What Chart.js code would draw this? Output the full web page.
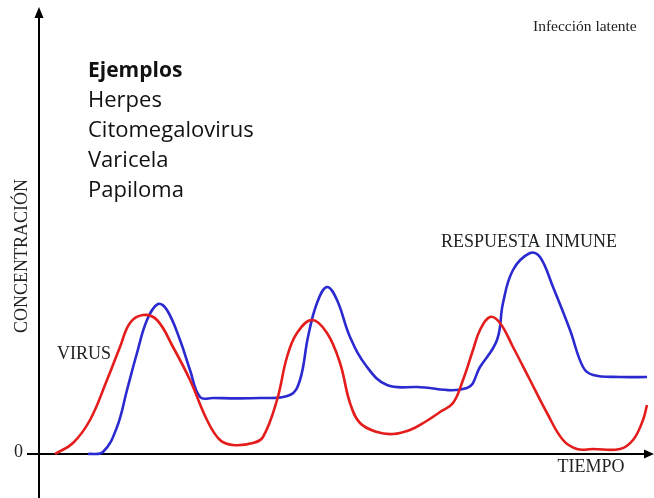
<!DOCTYPE html>
<html>
<head>
<meta charset="utf-8">
<script src="https://cdn.jsdelivr.net/npm/chart.js@4"></script>
<style>
  html, body { margin: 0; padding: 0; background: #ffffff; }
  #wrap { width: 654px; height: 498px; position: relative; }
</style>
</head>
<body>
<div id="wrap"><canvas id="infeccionChart"></canvas></div>
<script>
// tiempo / concentración (unidades arbitrarias)
const virusTime = [16, 34, 51, 68, 81, 91, 104, 118, 134, 151, 168, 181, 194, 214, 224, 238, 248, 258, 273, 288, 301, 311, 321, 338, 354, 371, 386, 401, 414, 424, 434, 441, 451, 461, 474, 491, 508, 524, 538, 554, 581, 594, 604, 608];
const virusConc = [0, 11, 34, 74, 107, 131, 139, 134, 107, 74, 34, 14, 9, 11, 17, 54, 97, 121, 134, 121, 91, 51, 31, 22, 20, 24, 32, 42, 51, 74, 104, 124, 137, 131, 107, 74, 41, 14, 5, 5, 5, 14, 34, 49];

const immuneTime = [49, 64, 78, 88, 98, 108, 119, 128, 141, 151, 161, 174, 221, 251, 261, 269, 278, 288, 298, 311, 328, 348, 378, 428, 441, 458, 464, 474, 491, 501, 514, 531, 544, 554, 581, 608];
const immuneConc = [0, 2, 27, 64, 101, 134, 150, 144, 114, 84, 57, 56, 56, 59, 74, 117, 151, 167, 154, 117, 87, 69, 67, 66, 87, 114, 151, 184, 201, 197, 167, 124, 87, 79, 77, 77];

const examplesTitle = "Ejemplos";
const examples = ["Herpes", "Citomegalovirus", "Varicela", "Papiloma"];

function toPoints(xs, ys) {
  return xs.map((x, i) => ({ x: x, y: ys[i] }));
}

const axesPlugin = {
  id: "axesPlugin",
  beforeDatasetsDraw(chart) {
    const ctx = chart.ctx;
    const area = chart.chartArea;
    const x0 = chart.scales.x.getPixelForValue(0);
    const y0 = chart.scales.y.getPixelForValue(0);

    ctx.save();
    ctx.strokeStyle = "#000";
    ctx.fillStyle = "#000";
    ctx.lineWidth = 2;

    // eje vertical
    ctx.beginPath();
    ctx.moveTo(x0, area.bottom);
    ctx.lineTo(x0, area.top + 14);
    ctx.stroke();
    ctx.beginPath();
    ctx.moveTo(x0, area.top + 7);
    ctx.lineTo(x0 - 4.5, area.top + 18);
    ctx.lineTo(x0 + 4.5, area.top + 18);
    ctx.closePath();
    ctx.fill();

    // eje horizontal
    ctx.beginPath();
    ctx.moveTo(x0 - 12, y0);
    ctx.lineTo(area.right - 6, y0);
    ctx.stroke();
    ctx.beginPath();
    ctx.moveTo(area.right, y0);
    ctx.lineTo(area.right - 10, y0 - 4.5);
    ctx.lineTo(area.right - 10, y0 + 4.5);
    ctx.closePath();
    ctx.fill();
    ctx.restore();
  }
};

const labelsPlugin = {
  id: "labelsPlugin",
  afterDatasetsDraw(chart) {
    const ctx = chart.ctx;
    const sx = v => chart.scales.x.getPixelForValue(v);
    const sy = v => chart.scales.y.getPixelForValue(v);

    ctx.save();
    ctx.fillStyle = "#222";
    ctx.textBaseline = "middle";
    ctx.font = "18px 'Liberation Serif', serif";

    ctx.textAlign = "right";
    ctx.fillText("0", sx(-16), sy(2));

    ctx.textAlign = "center";
    ctx.fillText(chart.data.datasets[0].label, sx(45), sy(100));
    ctx.fillText(chart.data.datasets[1].label, sx(490), sy(212));
    ctx.fillText("TIEMPO", sx(552), sy(-13));

    ctx.save();
    ctx.translate(sx(-17), sy(198));
    ctx.rotate(-Math.PI / 2);
    ctx.fillText("CONCENTRACIÓN", 0, 0);
    ctx.restore();

    ctx.textAlign = "left";
    ctx.font = "15.5px 'Liberation Serif', serif";
    ctx.fillText("Infección latente", sx(494), sy(427));

    // lista de ejemplos
    ctx.fillStyle = "#111";
    ctx.textBaseline = "alphabetic";
    const lineStep = 30;
    ctx.font = "bold 21px 'Open Sans', sans-serif";
    ctx.fillText(examplesTitle, sx(49), sy(377));
    ctx.font = "22px 'Open Sans', sans-serif";
    examples.forEach((name, i) => {
      ctx.fillText(name, sx(49), sy(377) + lineStep * (i + 1));
    });
    ctx.restore();
  }
};

const context = document.getElementById("infeccionChart").getContext("2d");

new Chart(context, {
  type: "line",
  data: {
    datasets: [
      {
        label: "VIRUS",
        data: toPoints(virusTime, virusConc),
        borderColor: "#e41c1c",
        borderWidth: 2.6,
        pointRadius: 0,
        fill: false,
        tension: 0.4
      },
      {
        label: "RESPUESTA INMUNE",
        data: toPoints(immuneTime, immuneConc),
        borderColor: "#2a2ad0",
        borderWidth: 2.6,
        pointRadius: 0,
        fill: false,
        tension: 0.4
      }
    ]
  },
  options: {
    responsive: true,
    maintainAspectRatio: false,
    animation: false,
    layout: { padding: 0 },
    plugins: {
      legend: { display: false },
      tooltip: { enabled: false }
    },
    scales: {
      x: { type: "linear", min: -39, max: 615, display: false },
      y: { type: "linear", min: -44, max: 454, display: false }
    }
  },
  plugins: [axesPlugin, labelsPlugin]
});
</script>
</body>
</html>
